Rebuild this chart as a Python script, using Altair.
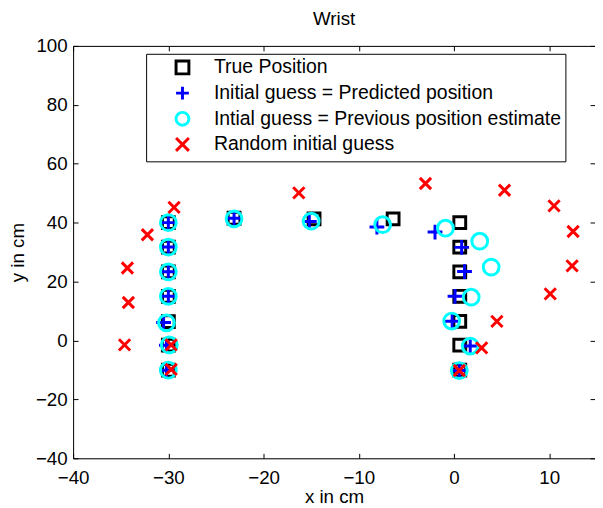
import altair as alt
import pandas as pd

# ---------------- data ----------------
series_names = [
    "True Position",
    "Initial guess = Predicted position",
    "Intial guess = Previous position estimate",
    "Random initial guess",
]

true_x = [-30, -30, -30, -30, -30, -30, -30, -23.1, -14.7, -6.4, 0.6, 0.6, 0.6, 0.6, 0.6, 0.6, 0.6]
true_y = [-10.1, -1.6, 6.4, 15.0, 23.3, 31.7, 40.0, 41.5, 41.3, 41.3, 40.0, 31.7, 23.3, 15.0, 6.5, -1.6, -10.1]

pred_x = [-30.2, -30.2, -30.5, -30, -30, -30, -30, -23.1, -15.2, -8.1, -2.0, 0.8, 1.1, 0.1, -0.2, 1.7, 0.55]
pred_y = [-10.1, -1.6, 6.1, 15.0, 23.3, 31.7, 40.0, 41.5, 40.4, 38.5, 36.8, 31.6, 23.4, 15.0, 6.5, -1.9, -10.2]

prev_x = [-30, -29.9, -30.2, -30, -30, -30, -30, -23.1, -15.0, -7.5, -0.9, 2.7, 3.9, 1.8, -0.25, 1.7, 0.55]
prev_y = [-10.1, -1.5, 6.0, 15.0, 23.3, 31.7, 40.0, 41.3, 40.5, 39.3, 38.1, 33.7, 24.9, 14.7, 6.6, -1.9, -10.2]

rand_x = [-29.7, -29.7, -34.6, -34.2, -34.3, -32.2, -29.4, -16.3, -3.0, 5.3, 10.5, 12.5, 12.4, 10.1, 4.5, 2.9, 0.55]
rand_y = [-9.8, -1.5, -1.5, 12.9, 24.6, 35.9, 45.2, 50.1, 53.3, 51.0, 45.7, 37.0, 25.3, 15.8, 6.5, -2.5, -10.2]

x_ticks = [-40, -30, -20, -10, 0, 10]
y_ticks = [-40, -20, 0, 20, 40, 60, 80, 100]

series_colors = ["#000000", "#0000ff", "#00ffff", "#ff0000"]
series_shapes = ["square", "M-1,0L1,0M0,-1L0,1", "circle", "M-1,-1L1,1M-1,1L1,-1"]
series_sizes = [144, 225, 256, 130]

rows = []
for k, (name, xs, ys) in enumerate(zip(series_names,
                                       [true_x, pred_x, prev_x, rand_x],
                                       [true_y, pred_y, prev_y, rand_y])):
    for xv, yv in zip(xs, ys):
        rows.append({"x": xv, "y": yv, "series": name, "k": k, "sz": series_sizes[k]})
df = pd.DataFrame(rows)

# ---------------- styling ----------------
FONT = "Liberation Sans"
FS = 19
LFS = 19.7

x_scale = alt.Scale(domain=[-40, 14.8], nice=False, zero=False)
y_scale = alt.Scale(domain=[-40, 100], nice=False, zero=False)

legend = alt.Legend(
    title=None, orient="none", legendX=74, legendY=8,
    padding=4, strokeColor="black", fillColor="white",
    labelFont=FONT, labelFontSize=LFS, labelColor="black", labelLimit=600,
    symbolStrokeWidth=3, symbolSize=169, rowPadding=0, symbolOffset=23, labelOffset=22,
    cornerRadius=0,
)

ax_x_main = alt.Axis(orient="bottom", values=x_ticks, title="x in cm", ticks=False, tickSize=0,
                     domain=True, domainColor="black", domainWidth=1, grid=False,
                     labelFont=FONT, labelFontSize=FS, labelColor="black", labelPadding=11,
                     labelFlush=False, labelOverlap=False,
                     titleFont=FONT, titleFontSize=FS, titleFontWeight="normal",
                     titleColor="black", titlePadding=0)
ax_y_main = alt.Axis(orient="left", values=y_ticks, title="y in cm", ticks=False, tickSize=0,
                     domain=True, domainColor="black", domainWidth=1, grid=False,
                     labelFont=FONT, labelFontSize=FS, labelColor="black", labelPadding=6,
                     labelFlush=False, labelOverlap=False,
                     titleFont=FONT, titleFontSize=FS, titleFontWeight="normal",
                     titleColor="black", titlePadding=8)

ax_x_btick = alt.Axis(orient="bottom", offset=-5, values=x_ticks, labels=False, domain=False,
                      ticks=True, tickSize=5, tickColor="black", tickWidth=1, grid=False, title=None)
ax_y_ltick = alt.Axis(orient="left", offset=-5, values=y_ticks, labels=False, domain=False,
                      ticks=True, tickSize=5, tickColor="black", tickWidth=1, grid=False, title=None)
ax_x_top = alt.Axis(orient="top", values=x_ticks, labels=False, domain=True, domainColor="black",
                    domainWidth=1, ticks=False, tickSize=0, grid=False, title=None)
ax_y_rtick = alt.Axis(orient="right", offset=-5, values=y_ticks, labels=False, domain=False,
                      ticks=True, tickSize=5, tickColor="black", tickWidth=1, grid=False, title=None)
ax_x_ttick = alt.Axis(orient="top", offset=-5, values=x_ticks, labels=False, domain=False,
                      ticks=True, tickSize=5, tickColor="black", tickWidth=1, grid=False, title=None)

base = alt.Chart(df)

points = base.mark_point(filled=False, strokeWidth=3, opacity=1).encode(
    x=alt.X("x:Q", scale=x_scale, axis=ax_x_main),
    y=alt.Y("y:Q", scale=y_scale, axis=ax_y_main),
    color=alt.Color("series:N", scale=alt.Scale(domain=series_names, range=series_colors), legend=legend),
    shape=alt.Shape("series:N", scale=alt.Scale(domain=series_names, range=series_shapes), legend=legend),
    size=alt.Size("sz:Q", scale=None),
    order=alt.Order("k:Q"),
)

axes2 = base.mark_point(opacity=0).encode(
    x=alt.X("x:Q", scale=x_scale, axis=ax_x_btick),
    y=alt.Y("y:Q", scale=y_scale, axis=ax_y_ltick),
)
axes3 = base.mark_point(opacity=0).encode(
    x=alt.X("x:Q", scale=x_scale, axis=ax_x_top),
    y=alt.Y("y:Q", scale=y_scale, axis=ax_y_rtick),
)
axes4 = base.mark_point(opacity=0).encode(
    x=alt.X("x:Q", scale=x_scale, axis=ax_x_ttick),
    y=alt.Y("y:Q", scale=y_scale, axis=None),
)

chart = alt.layer(points, axes2, axes3, axes4).resolve_axis(
    x="independent", y="independent"
).properties(
    width=529,
    height=418,
    title=alt.TitleParams("Wrist", font=FONT, fontSize=FS, fontWeight="normal", color="black",
                          anchor="middle", frame="group", offset=8),
    autosize=alt.AutoSizeParams(type="none"),
    padding={"left": 66, "top": 35, "right": 0, "bottom": 50},
).configure_view(strokeWidth=0).configure(background="white")

chart.save("out.html", embed_options={"renderer": "svg", "actions": False})
